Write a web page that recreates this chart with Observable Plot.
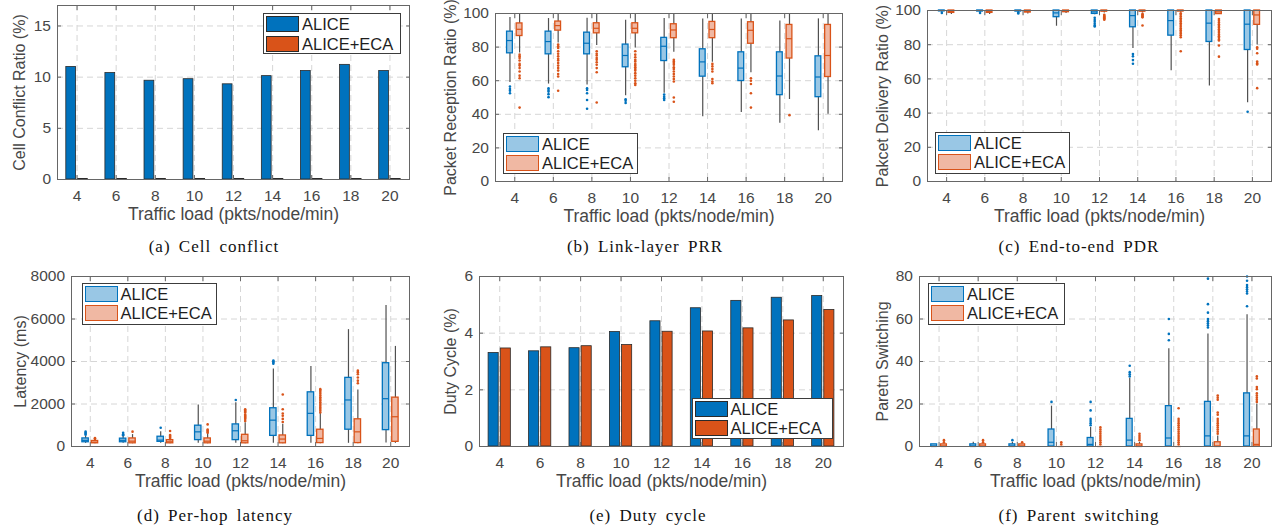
<!DOCTYPE html>
<html><head><meta charset="utf-8">
<script src="https://cdn.jsdelivr.net/npm/d3@7"></script>
<script src="https://cdn.jsdelivr.net/npm/@observablehq/plot@0.6"></script>
<style>
body{margin:0;background:#fff;}
#root{position:relative;width:1276px;height:529px;overflow:hidden;font-family:"Liberation Sans",Arial,Helvetica,sans-serif;}
.legend{position:absolute;background:#fff;border:1px solid #3c3c3c;box-sizing:border-box;font-size:16.5px;color:#1e1e1e;}
.legend .sw{position:absolute;left:2px;width:33px;height:16px;box-sizing:border-box;}
.legend .tx{position:absolute;left:38px;line-height:16px;white-space:nowrap;}
.caption{position:absolute;width:320px;text-align:center;font-family:"Liberation Serif","Times New Roman",serif;font-size:17px;line-height:17px;letter-spacing:1px;word-spacing:3px;color:#111;white-space:nowrap;}
</style></head><body><div id="root"></div>
<script>
// ---------------- data ----------------
const loads = [4, 6, 8, 10, 12, 14, 16, 18, 20];
const seriesNames = ["ALICE", "ALICE+ECA"];
const xLabel = "Traffic load (pkts/node/min)";

// (a) cell conflict ratio (%)
const conflictAlice = [11.0, 10.4, 9.65, 9.8, 9.3, 10.1, 10.6, 11.2, 10.6];
const conflictEca = [0.05, 0.05, 0.05, 0.05, 0.05, 0.05, 0.05, 0.05, 0.05];

// (e) duty cycle (%)
const dutyAlice = [3.30, 3.36, 3.47, 4.04, 4.42, 4.88, 5.14, 5.25, 5.31];
const dutyEca = [3.46, 3.50, 3.54, 3.58, 4.05, 4.06, 4.17, 4.45, 4.82];

// box stats per load: [lower whisker, q1, median, q3, upper whisker]
// (b) link-layer PRR (%)
const prrAliceBox = [
  [59, 76.3, 83.9, 89.2, 97.6], [58, 75.7, 83.3, 89.2, 97.0], [57.5, 75.7, 82.3, 88.6, 97.2],
  [51, 68, 75, 81.5, 96], [52.5, 71.7, 80.5, 85.5, 97], [38.6, 62.4, 71.2, 78.7, 96.8],
  [41, 59.8, 67.5, 76.9, 96.8], [34.6, 51.4, 62.8, 76.9, 95.6], [30.2, 50.2, 62.2, 74.5, 96.8]];
const prrAliceOut = [[56.5, 55, 54, 52.5], [55.5, 54.5, 53.5, 52, 50.2], [55.5, 54.5, 52.5, 48.5, 43.3],
  [49, 48, 46.7], [51.8, 50.5, 49.5, 48.5], [], [], [], []];
const prrEcaBox = [
  [76.5, 86.6, 90.6, 94.1, 99.8], [82.5, 89.8, 92.8, 95.2, 100], [81, 88.2, 91.2, 94.2, 100],
  [79.5, 88.2, 91.2, 94.2, 100], [77, 85.3, 90.2, 93.6, 100], [71, 85.3, 90.5, 95, 100],
  [64.8, 82, 90, 94.8, 100], [48.8, 73.2, 85, 93.2, 100], [40, 62.2, 75, 93.2, 100]];
const prrEcaOut = [
  [75.5, 74.5, 73.5, 72, 70, 69, 67.5, 65.5, 63, 61.5, 44],
  [81.5, 80.5, 79.5, 77.5, 76, 74.5, 73, 72, 70.5, 69, 67.5, 66, 64, 62.5, 54],
  [77.5, 76, 75, 73.5, 72.5, 71, 69.5, 67.5, 65, 47],
  [77.5, 75.5, 74, 72.5, 71.5, 70, 69, 68, 67, 66, 64.5, 63, 61.5, 60, 58.5, 57.5],
  [72.5, 71.5, 70.5, 69.5, 68, 67, 65.5, 64, 62.5, 61, 59.5, 50, 47.5],
  [70, 68.5, 67, 65.5, 61, 59.5, 58.5],
  [61.5, 60, 58, 52.5, 44],
  [39.5],
  []];

// (c) end-to-end PDR (%)
const pdrAliceBox = [
  [99, 99.5, 100, 100, 100], [99, 99.4, 100, 100, 100], [99, 99.4, 100, 100, 100],
  [90.8, 96.1, 98.6, 100, 100], [97.5, 98, 99.2, 100, 100], [77.8, 90.2, 97, 100, 100],
  [64.8, 85.3, 94.1, 100, 100], [55.9, 81.6, 92.6, 100, 100], [46, 76.9, 92, 100, 100]];
const pdrAliceOut = [[98.6], [98.6], [98.3, 98.8], [], [95.7, 94.5, 93.4, 92.2, 91.2, 90.6],
  [74.5, 73.2, 71, 68.9], [], [], [40.8]];
const pdrEcaBox = [
  [97.6, 98.6, 99.4, 100, 100], [97.6, 98.6, 99.4, 100, 100], [98, 98.8, 99.5, 100, 100],
  [98.3, 99, 99.6, 100, 100], [98.6, 99.3, 100, 100, 100], [98.6, 99.3, 100, 100, 100],
  [99, 99.4, 100, 100, 100], [97.7, 97.9, 99.2, 100, 100], [79.8, 91.6, 97.4, 100, 100]];
const pdrEcaOut = [[], [], [], [], [97.5, 97, 96.5, 96, 95.5, 95, 94.6], [98, 97.5, 97, 96.5, 96, 91.2],
  [98.4, 97.5, 96.5, 95.5, 94.5, 93.5, 92.5, 91.5, 90.5, 89.5, 88.5, 87.5, 86.5, 85.5, 84.4, 76.2],
  [95, 94, 93, 92, 91, 90, 89, 88, 87, 86, 85, 84, 83, 82.5, 79.5, 73],
  [78.5, 77.6, 75, 70.2, 69.2, 68.4, 54.6]];

// (d) per-hop latency (ms)
const latAliceBox = [
  [150, 200, 290, 380, 480], [150, 200, 290, 370, 480], [150, 220, 300, 460, 690],
  [150, 300, 690, 980, 1950], [150, 300, 740, 1040, 2060], [150, 500, 1240, 1800, 3650],
  [150, 500, 1560, 2550, 3760], [150, 790, 2190, 3230, 5500], [170, 770, 2250, 3920, 6630]];
const latAliceOut = [[550, 600, 650, 700], [530, 580, 650], [880], [], [2190],
  [3900, 3950, 4000, 4050], [], [], []];
const latEcaBox = [
  [130, 150, 200, 260, 330], [130, 150, 250, 380, 560], [130, 150, 220, 300, 450],
  [130, 150, 250, 380, 610], [130, 150, 270, 550, 1120], [130, 150, 350, 520, 1050],
  [130, 160, 380, 790, 1550], [130, 160, 690, 1280, 2660], [150, 220, 1400, 2300, 4710]];
const latEcaOut = [[350, 380, 400], [700], [340, 400, 450, 500, 540, 730], [650, 700, 750, 800, 1040],
  [1200, 1300, 1350, 1400, 1450, 1500, 1600, 1650, 1700, 1750],
  [1150, 1300, 1450, 1550, 1750, 2450],
  [1600, 1680, 1760, 1840, 1920, 2000, 2080, 2160, 2240, 2320, 2400, 2480, 2560, 2640, 2700],
  [2980, 3100, 3250, 3400, 3500, 3570], []];

// (f) parent switching (count)
const psAliceBox = [
  [0, 0, 0, 1, 1], [0, 0, 0, 1, 2], [0, 0, 0, 1, 2], [0, 0, 2, 8, 19], [0, 0, 1, 4, 9],
  [0, 0, 3, 13, 32], [0, 0, 4, 19, 46], [0, 0, 5, 21, 53], [0, 0, 5, 25, 62]];
const psAliceOut = [[], [], [3], [21], [10, 11, 12, 13, 17, 21], [33, 34, 35, 38], [50, 53, 60],
  [56, 57, 58, 59, 60, 63, 67, 79], [66, 72, 73, 74, 75, 76, 78, 80]];
const psEcaBox = [
  [0, 0, 0, 1, 1], [0, 0, 0, 1, 1], [0, 0, 0, 1, 1], [0, 0, 0, 0, 0], [0, 0, 0, 0, 0],
  [0, 0, 0, 1, 2], [0, 0, 0, 0, 0], [0, 0, 0, 2, 5], [0, 0, 1, 8, 20]];
const psEcaOut = [[2, 3], [2, 3], [2], [1, 2], [1, 2, 3, 4, 5, 6, 7, 8, 9], [3, 4, 5, 6],
  [1, 2, 3, 4, 5, 6, 7, 8, 9, 10, 11, 12, 13, 18],
  [6, 7, 8, 9, 10, 11, 12, 13, 15, 16, 22, 23, 24],
  [21, 22, 23, 24, 25, 27, 28, 32, 33]];

// y ticks
const conflictTicks = [0, 5, 10, 15];
const pctTicks = [0, 20, 40, 60, 80, 100];
const latTicks = [0, 2000, 4000, 6000, 8000];
const dutyTicks = [0, 2, 4, 6];
const psTicks = [0, 20, 40, 60, 80];

// ---------------- style ----------------
const FONT = '"Liberation Sans", Arial, Helvetica, sans-serif';
const BLUE = "#0072BD", ORANGE = "#D95319";
const BLUE_L = "#99c7e5", ORANGE_L = "#f0b8a3";
const GRID = "#d6d6d6", AXIS = "#474747", FRAME = "#666666", WHISK = "#505050";
const root = document.getElementById("root");

function place(el, left, top) {
  el.style.position = "absolute";
  el.style.left = left + "px";
  el.style.top = top + "px";
  root.appendChild(el);
}

function barMarks(values, side, color) {
  const rows = loads.map((l, i) => ({load: l, v: values[i]}));
  const a = side < 0 ? -0.55 : 0.05, b = side < 0 ? -0.05 : 0.55;
  return Plot.rect(rows, {x1: d => d.load + a, x2: d => d.load + b, y1: 0, y2: "v",
    fill: color, stroke: "#2a2a2a", strokeWidth: 0.8});
}

function boxMarks(stats, outs, off, hw, light, dark) {
  const rows = loads.map((l, i) => ({load: l, lo: stats[i][0], q1: stats[i][1], med: stats[i][2], q3: stats[i][3], hi: stats[i][4]}));
  const pts = loads.flatMap((l, i) => outs[i].map(v => ({load: l, v})));
  return [
    Plot.ruleX(rows, {x: d => d.load + off, y1: "lo", y2: "hi", stroke: WHISK, strokeWidth: 1.2}),
    Plot.rect(rows, {x1: d => d.load + off - hw, x2: d => d.load + off + hw, y1: "q1", y2: "q3",
      fill: light, stroke: dark, strokeWidth: 1.3}),
    Plot.ruleY(rows, {y: "med", x1: d => d.load + off - hw, x2: d => d.load + off + hw, stroke: dark, strokeWidth: 1.2}),
    Plot.dot(pts, {x: d => d.load + off, y: "v", r: 1.3, fill: dark, stroke: "none"})
  ];
}

function panel({svg, frame, yDomain, yTicks, yLabel, yLabelOffset, marks}) {
  const [L, T, W, H] = svg;
  const [fx0, fx1, fy0, fy1] = frame;
  const fmt = d => String(d);
  const chart = Plot.plot({
    width: W, height: H,
    marginLeft: fx0 - L, marginRight: L + W - fx1, marginTop: fy0 - T, marginBottom: T + H - fy1,
    style: {fontFamily: FONT, color: AXIS, background: "transparent", overflow: "visible"},
    x: {type: "linear", domain: [3, 21]},
    y: {type: "linear", domain: yDomain},
    marks: [
      Plot.ruleX(loads, {x: d => d, stroke: GRID, strokeDasharray: "6,4"}),
      Plot.ruleY(yTicks, {y: d => d, stroke: GRID, strokeDasharray: "6,4"}),
      ...marks,
      Plot.frame({stroke: FRAME, strokeWidth: 1}),
      Plot.axisX(loads, {anchor: "bottom", tickSize: -4, fill: "none", stroke: FRAME, label: null}),
      Plot.axisX(loads, {anchor: "top", tickSize: -4, fill: "none", stroke: FRAME, label: null}),
      Plot.axisY(yTicks, {anchor: "left", tickSize: -4, fill: "none", stroke: FRAME, label: null}),
      Plot.axisY(yTicks, {anchor: "right", tickSize: -4, fill: "none", stroke: FRAME, label: null}),
      Plot.axisX(loads, {anchor: "bottom", tickSize: 0, tickPadding: 10, fontSize: 15.5, tickFormat: fmt, label: null}),
      Plot.axisX(loads, {anchor: "bottom", tickSize: 0, tickFormat: () => "", fontSize: 17.5,
        label: xLabel, labelAnchor: "center", labelArrow: "none", labelOffset: 40}),
      Plot.axisY(yTicks, {anchor: "left", tickSize: 0, tickPadding: 6.5, fontSize: 15.5, tickFormat: fmt, label: null}),
      Plot.axisY(yTicks, {anchor: "left", tickSize: 0, tickFormat: () => "", fontSize: 16,
        label: yLabel, labelAnchor: "center", labelArrow: "none", labelOffset: yLabelOffset})
    ]
  });
  place(chart, L, T);
}

function legend(left, top, w, h, kind) {
  const div = document.createElement("div");
  div.className = "legend";
  div.style.width = w + "px";
  div.style.height = h + "px";
  const colors = kind === "bar"
    ? [[BLUE, "#2a2a2a"], [ORANGE, "#2a2a2a"]]
    : [[BLUE_L, BLUE], [ORANGE_L, ORANGE]];
  seriesNames.forEach((name, i) => {
    const rowTop = 2 + i * 19.5;
    const sw = document.createElement("div");
    sw.className = "sw";
    sw.style.top = rowTop + "px";
    sw.style.background = colors[i][0];
    sw.style.border = (kind === "bar" ? "1px" : "1.5px") + " solid " + colors[i][1];
    const tx = document.createElement("div");
    tx.className = "tx";
    tx.style.top = rowTop + "px";
    tx.textContent = name;
    div.appendChild(sw);
    div.appendChild(tx);
  });
  place(div, left, top);
}

function caption(text, cx, top) {
  const div = document.createElement("div");
  div.className = "caption";
  div.textContent = text;
  place(div, cx - 160, top);
}

// ---------------- panels ----------------
panel({svg: [0, 0, 420, 235], frame: [57, 409, 5, 179], yDomain: [0, 17], yTicks: conflictTicks,
  yLabel: "Cell Conflict Ratio (%)", yLabelOffset: 44,
  marks: [barMarks(conflictAlice, -1, BLUE), barMarks(conflictEca, 1, ORANGE)]});

panel({svg: [420, 0, 430, 235], frame: [495, 842, 13, 181], yDomain: [0, 100], yTicks: pctTicks,
  yLabel: "Packet Reception Ratio (%)", yLabelOffset: 51,
  marks: [...boxMarks(prrAliceBox, prrAliceOut, -0.25, 0.15, BLUE_L, BLUE),
          ...boxMarks(prrEcaBox, prrEcaOut, 0.25, 0.15, ORANGE_L, ORANGE)]});

panel({svg: [850, 0, 426, 235], frame: [927, 1271, 10, 181], yDomain: [0, 100], yTicks: pctTicks,
  yLabel: "Pakcet Delivery Ratio (%)", yLabelOffset: 51,
  marks: [...boxMarks(pdrAliceBox, pdrAliceOut, -0.25, 0.15, BLUE_L, BLUE),
          ...boxMarks(pdrEcaBox, pdrEcaOut, 0.25, 0.15, ORANGE_L, ORANGE)]});

panel({svg: [0, 262, 420, 238], frame: [71, 409, 276, 446], yDomain: [0, 8000], yTicks: latTicks,
  yLabel: "Latency (ms)", yLabelOffset: 57,
  marks: [...boxMarks(latAliceBox, latAliceOut, -0.25, 0.17, BLUE_L, BLUE),
          ...boxMarks(latEcaBox, latEcaOut, 0.25, 0.17, ORANGE_L, ORANGE)]});

panel({svg: [420, 262, 430, 238], frame: [479, 843, 276, 446], yDomain: [0, 6], yTicks: dutyTicks,
  yLabel: "Duty Cycle (%)", yLabelOffset: 35,
  marks: [barMarks(dutyAlice, -1, BLUE), barMarks(dutyEca, 1, ORANGE)]});

panel({svg: [850, 262, 426, 238], frame: [919, 1271, 276, 446], yDomain: [0, 80], yTicks: psTicks,
  yLabel: "Paretn Switching", yLabelOffset: 43,
  marks: [...boxMarks(psAliceBox, psAliceOut, -0.25, 0.15, BLUE_L, BLUE),
          ...boxMarks(psEcaBox, psEcaOut, 0.25, 0.15, ORANGE_L, ORANGE)]});

// legends
legend(263, 13, 138, 41, "bar");
legend(503, 132.5, 135, 41, "box");
legend(935, 131.5, 135, 42, "box");
legend(81.5, 282.5, 135, 42, "box");
legend(691.5, 397.5, 141, 41, "bar");
legend(928, 282.5, 137, 42, "box");

// captions
caption("(a) Cell conflict", 214, 237.5);
caption("(b) Link-layer PRR", 645, 237.5);
caption("(c) End-to-end PDR", 1079, 237.5);
caption("(d) Per-hop latency", 215, 506.5);
caption("(e) Duty cycle", 648, 506.5);
caption("(f) Parent switching", 1079, 506.5);
</script></body></html>
